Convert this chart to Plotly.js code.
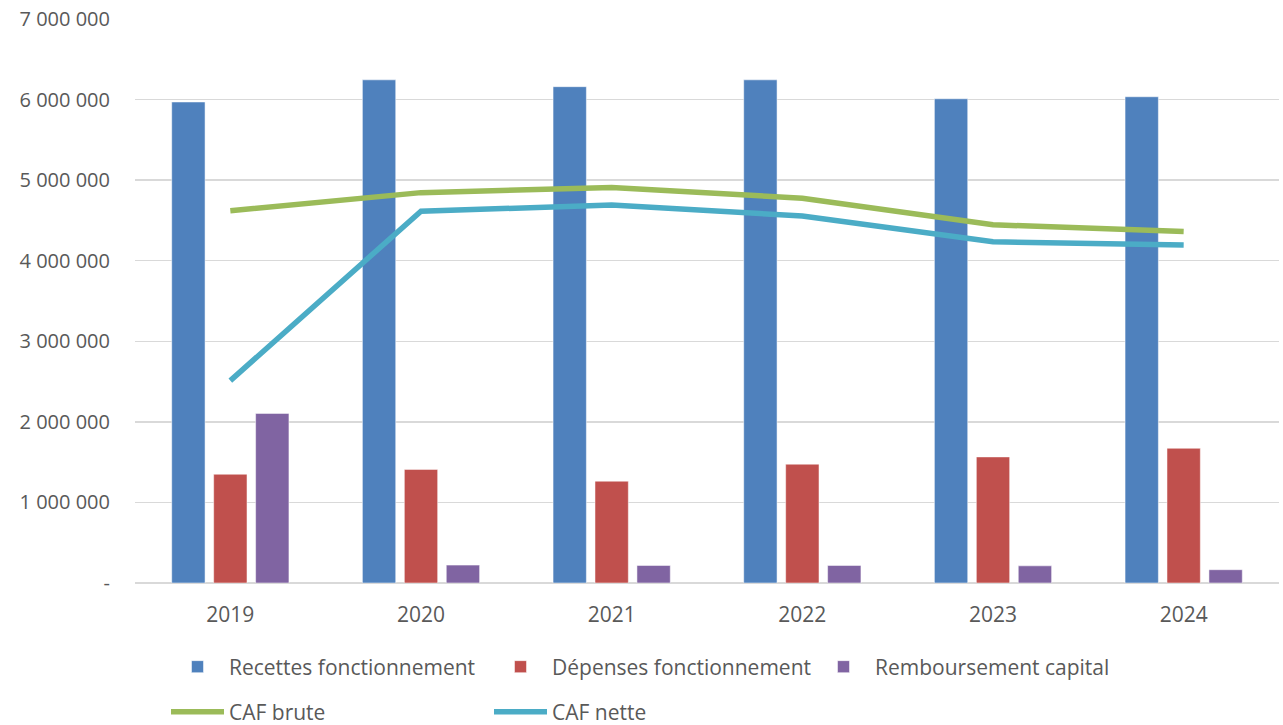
<!DOCTYPE html>
<html>
<head>
<meta charset="utf-8">
<script src="https://cdn.plot.ly/plotly-3.0.1.min.js"></script>
<style>html,body{margin:0;padding:0;background:#fff;}#chart{width:1283px;height:725px;}</style>
</head>
<body>
<div id="chart"></div>
<script>
var years = ["2019", "2020", "2021", "2022", "2023", "2024"];
var recettes = [5970000, 6245000, 6160000, 6245000, 6010000, 6035000];
var depenses = [1350000, 1410000, 1264000, 1475000, 1565000, 1672000];
var remboursement = [2105000, 222000, 218000, 218000, 213000, 165000];
var cafBrute = [4620000, 4845000, 4908000, 4775000, 4446000, 4362000];
var cafNette = [2512000, 4615000, 4690000, 4555000, 4235000, 4195000];
var yTickVals = [0, 1000000, 2000000, 3000000, 4000000, 5000000, 6000000, 7000000];
var yTickText = ["-", "1 000 000", "2 000 000", "3 000 000", "4 000 000", "5 000 000", "6 000 000", "7 000 000"];

var FONT = "Open Sans";
var TXT = "#595959";

var traces = [
  {type: "bar", name: "Recettes fonctionnement", x: years, y: recettes,
   marker: {color: "#4F81BD", line: {color: "rgba(255,255,255,0.5)", width: 1}}, legend: "legend"},
  {type: "bar", name: "Dépenses fonctionnement", x: years, y: depenses,
   marker: {color: "#C0504D", line: {color: "rgba(255,255,255,0.5)", width: 1}}, legend: "legend"},
  {type: "bar", name: "Remboursement capital", x: years, y: remboursement,
   marker: {color: "#8064A2", line: {color: "rgba(255,255,255,0.5)", width: 1}}, legend: "legend"},
  {type: "scatter", mode: "lines", name: "CAF brute", x: years, y: cafBrute,
   line: {color: "#9BBB59", width: 5.5}, legend: "legend2"},
  {type: "scatter", mode: "lines", name: "CAF nette", x: years, y: cafNette,
   line: {color: "#4BACC6", width: 5.5}, legend: "legend2"}
];

var legendCommon = {
  orientation: "h",
  xref: "container", yref: "container",
  xanchor: "left", yanchor: "middle",
  font: {family: FONT, size: 21, color: TXT},
  itemwidth: 53,
  entrywidth: 255,
  bgcolor: "rgba(0,0,0,0)",
  tracegroupgap: 0,
  traceorder: "normal"
};

var layout = {
  width: 1283, height: 725,
  margin: {l: 135, r: 4, t: 19, b: 142},
  paper_bgcolor: "#fff", plot_bgcolor: "#fff",
  font: {family: FONT, size: 20, color: TXT},
  barmode: "group",
  bargap: 0.34,
  bargroupgap: 0.205,
  showlegend: true,
  xaxis: {
    type: "category",
    showgrid: false, zeroline: false, showline: false,
    ticks: "",
    tickfont: {family: FONT, size: 21, color: TXT},
    ticklabelstandoff: 17,
    fixedrange: true
  },
  yaxis: {
    range: [0, 7000000],
    tickmode: "array", tickvals: yTickVals, ticktext: yTickText,
    showgrid: true, gridcolor: "#D9D9D9", gridwidth: 1.5,
    zeroline: true, zerolinecolor: "#D9D9D9", zerolinewidth: 1.5,
    showline: false, ticks: "",
    tickfont: {family: FONT, size: 20, color: TXT},
    ticklabelstandoff: 24,
    fixedrange: true
  },
  legend: Object.assign({}, legendCommon, {x: 166 / 1283, y: 1 - 667 / 725}),
  legend2: Object.assign({}, legendCommon, {x: 166 / 1283, y: 1 - 712 / 725})
};

Plotly.newPlot("chart", traces, layout, {displayModeBar: false, staticPlot: true});
</script>
</body>
</html>
